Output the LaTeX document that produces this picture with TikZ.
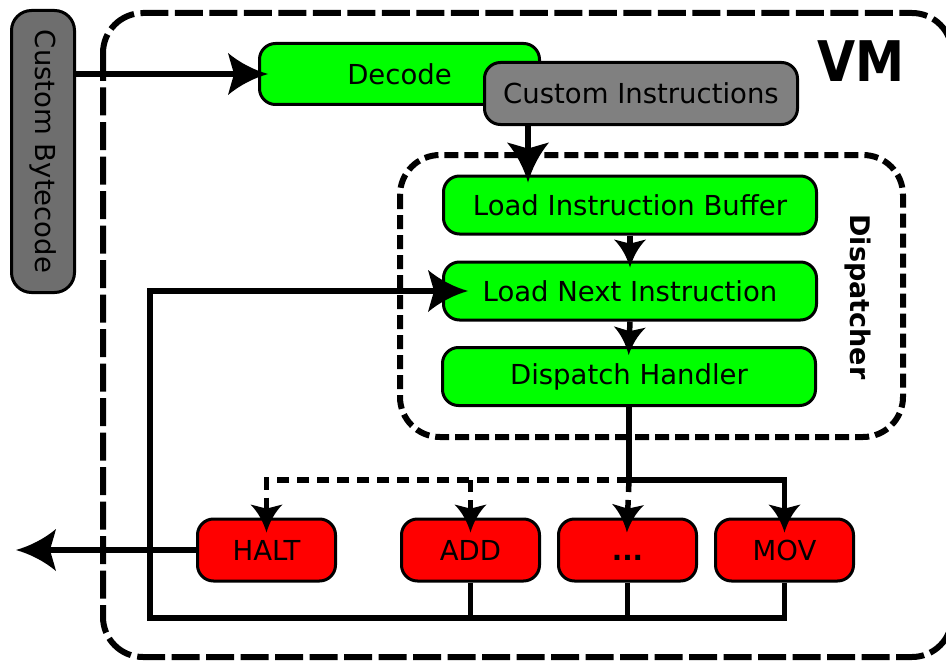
\documentclass[tikz,border=0pt]{standalone}
\usepackage{fontspec}
\setmainfont{DejaVu Sans}
\usetikzlibrary{arrows.meta}

\definecolor{boxgreen}{HTML}{00FF00}
\definecolor{boxred}{HTML}{FF0000}
\definecolor{cigray}{HTML}{808080}
\definecolor{bcgray}{HTML}{6E6E6E}

% barbed arrow heads with concave sides
\pgfdeclarearrow{
  name = bigbarb,
  setup code = {
    \pgfarrowssettipend{0pt}
    \pgfarrowssetlineend{-20pt}
    \pgfarrowssetbackend{-40pt}
    \pgfarrowsupperhullpoint{0pt}{0pt}
    \pgfarrowsupperhullpoint{-40pt}{21pt}
  },
  drawing code = {
    \pgfpathmoveto{\pgfqpoint{0pt}{0pt}}
    \pgfpathcurveto{\pgfqpoint{-14pt}{4pt}}{\pgfqpoint{-28pt}{11pt}}{\pgfqpoint{-40pt}{21pt}}
    \pgfpathcurveto{\pgfqpoint{-37pt}{10pt}}{\pgfqpoint{-35pt}{4pt}}{\pgfqpoint{-34pt}{0pt}}
    \pgfpathcurveto{\pgfqpoint{-35pt}{-4pt}}{\pgfqpoint{-37pt}{-10pt}}{\pgfqpoint{-40pt}{-21pt}}
    \pgfpathcurveto{\pgfqpoint{-28pt}{-11pt}}{\pgfqpoint{-14pt}{-4pt}}{\pgfqpoint{0pt}{0pt}}
    \pgfpathclose
    \pgfusepathqfill
  },
}
\pgfdeclarearrow{
  name = smallbarb,
  setup code = {
    \pgfarrowssettipend{0pt}
    \pgfarrowssetlineend{-14pt}
    \pgfarrowssetbackend{-28pt}
    \pgfarrowsupperhullpoint{0pt}{0pt}
    \pgfarrowsupperhullpoint{-28pt}{16pt}
  },
  drawing code = {
    \pgfpathmoveto{\pgfqpoint{0pt}{0pt}}
    \pgfpathcurveto{\pgfqpoint{-10pt}{3pt}}{\pgfqpoint{-20pt}{8pt}}{\pgfqpoint{-28pt}{16pt}}
    \pgfpathcurveto{\pgfqpoint{-26pt}{8pt}}{\pgfqpoint{-24.5pt}{3pt}}{\pgfqpoint{-24pt}{0pt}}
    \pgfpathcurveto{\pgfqpoint{-24.5pt}{-3pt}}{\pgfqpoint{-26pt}{-8pt}}{\pgfqpoint{-28pt}{-16pt}}
    \pgfpathcurveto{\pgfqpoint{-20pt}{-8pt}}{\pgfqpoint{-10pt}{-3pt}}{\pgfqpoint{0pt}{0pt}}
    \pgfpathclose
    \pgfusepathqfill
  },
}

\tikzset{
  blk/.style={draw=black, line width=3pt, rounded corners=16pt, inner sep=0pt,
              font=\fontsize{27.5}{31}\selectfont, text=black},
  stage/.style={blk, fill=boxgreen, minimum width=373pt, minimum height=58pt},
  handler/.style={blk, fill=boxred, minimum width=138pt, minimum height=62pt},
  conn/.style={line width=5.5pt, line join=miter, draw=black},
  bigtip/.style={-bigbarb},
  smalltip/.style={-smallbarb},
  dashconn/.style={conn, dash pattern=on 12pt off 8pt},
  vmframe/.style={line width=6pt, dash pattern=on 28pt off 6.5pt, rounded corners=40pt},
  dispframe/.style={line width=6pt, dash pattern=on 14pt off 6pt, rounded corners=40pt},
}

\begin{document}
\begin{tikzpicture}[x=1pt, y=-1pt]
\useasboundingbox (0,0) rectangle (946,661);

% outer VM frame and dispatcher frame
\draw[vmframe] (103,13) rectangle (952,657);
\draw[dispframe] (400,155) rectangle (903,437);

\node[font=\fontsize{56}{60}\selectfont\bfseries] (vm) at (861,61) {\scalebox{0.88}[1]{VM}};
\node[font=\fontsize{27}{30}\selectfont\bfseries, rotate=-90] (disp) at (858,297) {Dispatcher};

% input bytecode
\node[blk, fill=bcgray, rounded corners=20pt, minimum width=63pt, minimum height=282pt] (bc) at (43,151.5) {};
\node[font=\fontsize{27.5}{31}\selectfont, rotate=-90] (bctext) at (bc.center) {Custom Bytecode};

% decode stage
\node[blk, fill=boxgreen, minimum width=280pt, minimum height=61pt] (dec) at (399.5,74) {Decode};
\node[blk, fill=cigray, minimum width=313pt, minimum height=62pt] (ci) at (641,93.5) {Custom Instructions};

% dispatcher stages
\node[stage] (lib) at (630,205) {Load Instruction Buffer};
\node[stage] (lni) at (630,291) {Load Next Instruction};
\node[stage] (dh) at (629,376.5) {Dispatch Handler};

% handlers
\node[handler] (halt) at (266.5,550) {HALT};
\node[handler] (add) at (470.5,550) {ADD};
\node[handler] (dots) at (627.5,550) {\vphantom{H}\textbf{...}};
\node[handler] (mov) at (784.5,550) {MOV};

% helper coordinates
\coordinate (jy) at (0,480);
\coordinate (busy) at (0,618);
\coordinate (loopx) at (150,0);
\coordinate (cix) at (528,0);
\coordinate (exitx) at (16,0);
\coordinate (j) at (dh.south |- jy);

% flow
\draw[conn, bigtip, shorten >=-10pt] (bc.east |- dec.west) -- (dec.west);
\draw[conn, bigtip, shorten >=-8pt] (ci.south -| cix) -- (lib.north -| cix);
\draw[conn, smalltip, shorten >=-7pt] (lib.south) -- (lni.north);
\draw[conn, smalltip, shorten >=-9pt] (lni.south) -- (dh.north);

% dispatch to handlers
\draw[dashconn, smalltip, shorten >=-15pt] (j) -| (halt.north);
\draw[dashconn, smalltip, shorten >=-15pt] (add.north |- j) -- (add.north);
\draw[dashconn, smalltip, shorten >=-15pt] (j) -- (dots.north);
\draw[conn, smalltip, shorten >=-15pt] (dh.south) -- (j) -| (mov.north);

% return loop
\draw[conn] (add.south) -- (add.south |- busy);
\draw[conn] (dots.south) -- (dots.south |- busy);
\draw[conn, bigtip, shorten >=-26pt] (mov.south) -- (mov.south |- busy) -- (loopx |- busy) -- (loopx |- lni.west) -- (lni.west);

% exit
\draw[conn, bigtip] (halt.west) -- (halt.west -| exitx);
\end{tikzpicture}
\end{document}
